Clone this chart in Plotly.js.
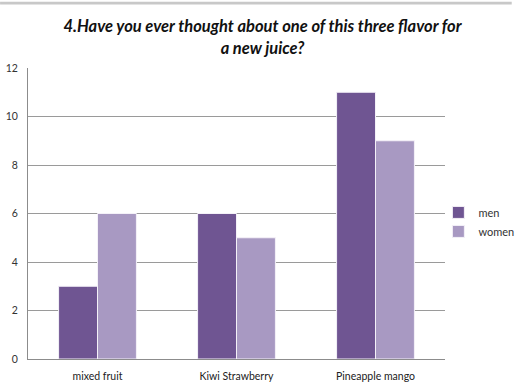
<!DOCTYPE html>
<html><head><meta charset="utf-8">
<script src="https://cdn.plot.ly/plotly-3.0.1.min.js"></script>
<style>html,body{margin:0;padding:0;background:#fff;}#c{width:525px;height:390px;}</style>
</head><body><div id="c"></div>
<script>
const categories = ["mixed fruit", "Kiwi Strawberry", "Pineapple mango"];
const men = [3, 6, 11];
const women = [6, 5, 9];
const yTicks = [0, 2, 4, 6, 8, 10, 12];

const traces = [
  {type:'bar', name:'men', x:categories, y:men,
   marker:{color:'#6f5592', line:{color:'#f4f1f8', width:1}}},
  {type:'bar', name:'women', x:categories, y:women,
   marker:{color:'#a899c2', line:{color:'#f4f1f8', width:1}}}
];

const layout = {
  width:525, height:390,
  margin:{l:28, r:80, t:68, b:31, autoexpand:false},
  paper_bgcolor:'#fff', plot_bgcolor:'#fff',
  font:{family:'Lato, sans-serif', size:10, color:'#404040'},
  title:{text:'4.Have you ever thought about one of this three flavor for<br>a new juice?',
    font:{family:'Lato, sans-serif', size:16.5, color:'#111', weight:'bold', style:'italic'},
    x:0.5, xref:'container', xanchor:'center', y:0.917, yanchor:'middle', yref:'container'},
  barmode:'group', bargap:0.44, bargroupgap:0,
  xaxis:{showgrid:false, showline:true, linecolor:'#8c8c8c', linewidth:1,
    ticks:'outside', ticklen:7, tickcolor:'rgba(0,0,0,0)', tickfont:{size:10.5, color:'#222'}},
  yaxis:{range:[0,12], tickvals:yTicks, showgrid:true, gridcolor:'#9a9a9a', gridwidth:1,
    showline:true, linecolor:'#8c8c8c', linewidth:1, zeroline:false,
    ticks:'outside', ticklen:7, tickcolor:'rgba(0,0,0,0)',
    tickfont:{size:10.5, color:'#333'}},
  legend:{x:0.835, xref:'container', xanchor:'left', y:0.431, yref:'container', yanchor:'middle',
    font:{size:11, color:'#333'}, bgcolor:'rgba(0,0,0,0)', itemwidth:30, tracegroupgap:4},
  showlegend:true,
  shapes:[{type:'rect', xref:'paper', yref:'paper', x0:-0.067, x1:1.16, y0:1.218, y1:1.228,
    fillcolor:'#c8c8c8', line:{width:0}}]
};
Plotly.newPlot('c', traces, layout, {displayModeBar:false, staticPlot:true});
</script></body></html>
